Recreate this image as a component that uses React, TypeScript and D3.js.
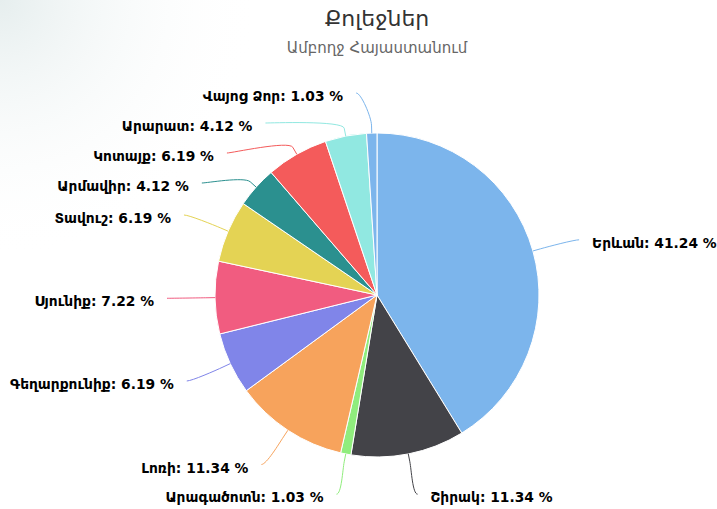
import * as d3 from 'd3';

const regions = [
  'Երևան',
  'Շիրակ',
  'Արագածոտն',
  'Լոռի',
  'Գեղարքունիք',
  'Սյունիք',
  'Տավուշ',
  'Արմավիր',
  'Կոտայք',
  'Արարատ',
  'Վայոց Ձոր',
];
const shares = [41.24, 11.34, 1.03, 11.34, 6.19, 7.22, 6.19, 4.12, 6.19, 4.12, 1.03];
const palette = [
  '#7cb5ec', '#434348', '#90ed7d', '#f7a35c', '#8085e9',
  '#f15c80', '#e4d354', '#2b908f', '#f45b5b', '#91e8e1',
];

const title = 'Քոլեջներ';
const subtitle = 'Ամբողջ Հայաստանում';

const W = 717;
const H = 509;
const font = '"DejaVu Sans", sans-serif';

interface Slice {
  i: number;
  mid: number;
  target: number;
  y: number;
  left: boolean;
}

// spread labels on one side so they don't overlap (groups sit on the mean of their targets)
function spread(items: Slice[], size: number, lo: number, hi: number) {
  const sorted = [...items].sort((a, b) => a.target - b.target);
  let groups = sorted.map((s) => ({ members: [s], pos: s.target }));
  const place = (g: { members: Slice[]; pos: number }) => {
    const n = g.members.length;
    let p = d3.mean(g.members, (m) => m.target)! - ((n - 1) * size) / 2;
    p = Math.max(p, lo);
    p = Math.min(p, hi - (n - 1) * size);
    g.pos = p;
  };
  let merged = true;
  while (merged) {
    merged = false;
    groups.forEach(place);
    for (let k = 0; k < groups.length - 1; k++) {
      const a = groups[k];
      const b = groups[k + 1];
      if (a.pos + a.members.length * size > b.pos + 0.5) {
        groups = [
          ...groups.slice(0, k),
          { members: [...a.members, ...b.members], pos: 0 },
          ...groups.slice(k + 2),
        ];
        merged = true;
        break;
      }
    }
  }
  groups.forEach((g) => g.members.forEach((m, j) => (m.y = g.pos + j * size)));
}

export default function App() {
  const cx = 377;
  const cy = 295;
  const r = 162;
  const rx = 210; // label ellipse
  const ry = 203;

  const pie = d3.pie<number>().sort(null).value((d) => d);
  const arcs = pie(shares);
  const arc = d3.arc<d3.PieArcDatum<number>>().innerRadius(0).outerRadius(r);

  const slices: Slice[] = arcs.map((a, i) => {
    const mid = (a.startAngle + a.endAngle) / 2;
    return { i, mid, target: cy - ry * Math.cos(mid), y: 0, left: mid > Math.PI };
  });
  spread(slices.filter((s) => s.left), 30, cy - 202, cy + 205);
  spread(slices.filter((s) => !s.left), 30, cy - 202, cy + 205);

  const labels = slices.map((s) => {
    const dy = (s.y - cy) / ry;
    const dx = rx * Math.sqrt(Math.max(0, 1 - dy * dy));
    const lx = cx + (s.left ? -dx : dx);
    const touch = [cx + r * Math.sin(s.mid), cy - r * Math.cos(s.mid)];
    const brk = [cx + (r + 8) * Math.sin(s.mid), cy - (r + 8) * Math.cos(s.mid)];
    const path = d3.path();
    path.moveTo(lx, s.y);
    path.bezierCurveTo(
      lx + (s.left ? 5 : -5), s.y,
      2 * brk[0] - touch[0], 2 * brk[1] - touch[1],
      brk[0], brk[1]
    );
    path.lineTo(touch[0], touch[1]);
    return { ...s, lx, d: path.toString() };
  });

  return (
    <svg
      width={W}
      height={H}
      style={{ position: 'fixed', left: 0, top: 0, background: '#fff' }}
      fontFamily={font}
    >
      <defs>
        <radialGradient id="corner" cx="0" cy="0" r="260" gradientUnits="userSpaceOnUse">
          <stop offset="0%" stopColor="#e6eeee" />
          <stop offset="100%" stopColor="#ffffff" stopOpacity={0} />
        </radialGradient>
      </defs>
      <rect width={W} height={H} fill="url(#corner)" />

      <text x={cx} y={18} textAnchor="middle" dominantBaseline="central" fontSize={22} fill="#333">
        {title}
      </text>
      <text x={cx} y={48} textAnchor="middle" dominantBaseline="central" fontSize={15} fill="#666">
        {subtitle}
      </text>

      <g transform={`translate(${cx},${cy})`}>
        {arcs.map((a, i) => (
          <path key={i} d={arc(a)!} fill={palette[i % palette.length]} stroke="#fff" strokeWidth={1} />
        ))}
      </g>

      {labels.map((l) => (
        <g key={l.i}>
          <path d={l.d} fill="none" stroke={palette[l.i % palette.length]} strokeWidth={1} />
          <text
            x={l.lx + (l.left ? -13 : 13)}
            y={l.y + 3}
            textAnchor={l.left ? 'end' : 'start'}
            dominantBaseline="central"
            fontSize={13.8}
            fontWeight="bold"
            fill="#000"
          >
            {`${regions[l.i]}: ${shares[l.i].toFixed(2)} %`}
          </text>
        </g>
      ))}
    </svg>
  );
}
